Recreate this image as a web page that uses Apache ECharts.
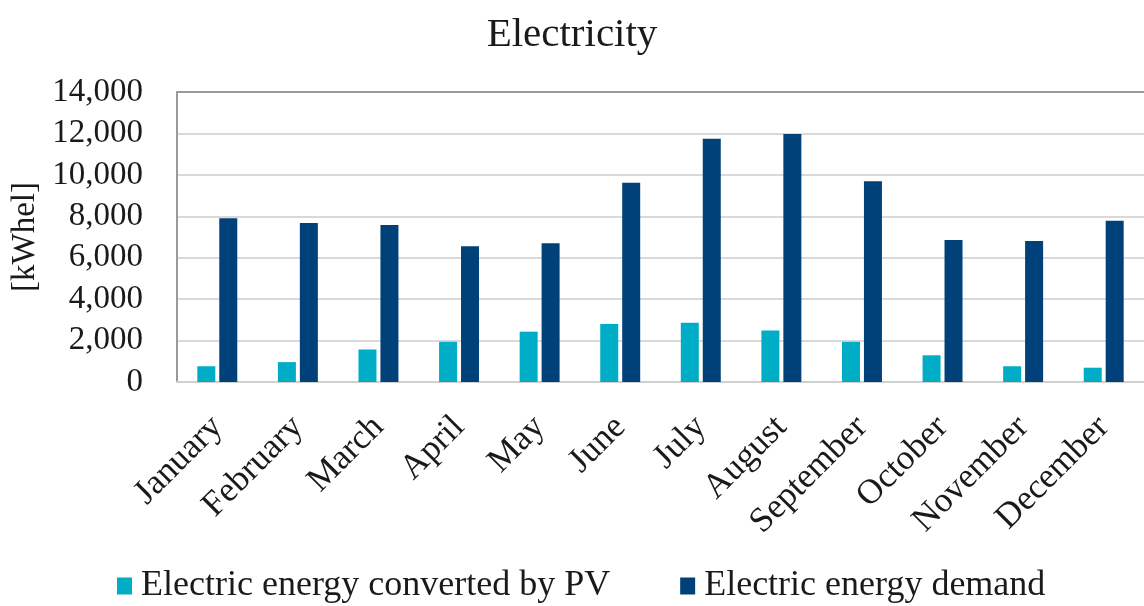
<!DOCTYPE html>
<html>
<head>
<meta charset="utf-8">
<script src="https://cdn.jsdelivr.net/npm/echarts@6/dist/echarts.min.js"></script>
<style>
html,body{margin:0;padding:0;background:#fff;}
#chart{width:1144px;height:606px;}
</style>
</head>
<body>
<div id="chart"></div>
<script>
const categories = ['January','February','March','April','May','June','July','August','September','October','November','December'];
const pvValues = [760, 960, 1570, 1940, 2430, 2800, 2860, 2490, 1940, 1290, 760, 690];
const demandValues = [7900, 7680, 7580, 6550, 6700, 9620, 11740, 11970, 9690, 6860, 6810, 7780];
const seriesNames = ['Electric energy converted by PV', 'Electric energy demand'];
const titleText = 'Electricity';
const yAxisName = '[kWhel]';

const FONT = "'Liberation Serif', 'DejaVu Serif', serif";
const chart = echarts.init(document.getElementById('chart'));
chart.setOption({
  backgroundColor: '#ffffff',
  animation: false,
  title: {
    text: titleText,
    left: 'center',
    top: 10,
    textStyle: { fontFamily: FONT, fontSize: 41, fontWeight: 'normal', color: '#1a1a1a' }
  },
  legend: {
    bottom: -3,
    left: 112,
    itemWidth: 15,
    itemHeight: 17,
    itemGap: 70,
    icon: 'rect',
    textStyle: { fontFamily: FONT, fontSize: 36, color: '#1a1a1a', padding: [0, 0, 0, 4] },
    data: seriesNames
  },
  grid: { left: 177, right: 0, top: 92, bottom: 224, containLabel: false },
  xAxis: [{
    type: 'category',
    data: categories,
    axisLine: { show: true, lineStyle: { color: '#d0d0d0', width: 2 } },
    axisTick: { show: false },
    axisLabel: { rotate: 45, margin: 40, fontFamily: FONT, fontSize: 35, color: '#1a1a1a', interval: 0 }
  }, {
    type: 'category',
    data: categories,
    position: 'top',
    axisLine: { show: true, lineStyle: { color: '#9a9a9a', width: 2 } },
    axisTick: { show: false },
    axisLabel: { show: false }
  }],
  yAxis: {
    type: 'value',
    min: 0,
    max: 14000,
    interval: 2000,
    name: yAxisName,
    nameLocation: 'middle',
    nameGap: 130,
    nameRotate: 90,
    nameTextStyle: { fontFamily: FONT, fontSize: 33, color: '#1a1a1a' },
    axisLine: { show: true, lineStyle: { color: '#9a9a9a', width: 2 } },
    axisTick: { show: false },
    splitLine: { show: true, lineStyle: { color: '#d9d9d9', width: 2 } },
    axisLabel: {
      fontFamily: FONT, fontSize: 33, color: '#1a1a1a', margin: 34,
      formatter: v => v.toLocaleString('en-US')
    }
  },
  series: [{
    name: seriesNames[0],
    type: 'bar',
    data: pvValues,
    barWidth: 18,
    barGap: '22%',
    itemStyle: { color: '#00adc7' }
  }, {
    name: seriesNames[1],
    type: 'bar',
    data: demandValues,
    barWidth: 18,
    barGap: '22%',
    itemStyle: { color: '#00417a' }
  }]
});
</script>
</body>
</html>
